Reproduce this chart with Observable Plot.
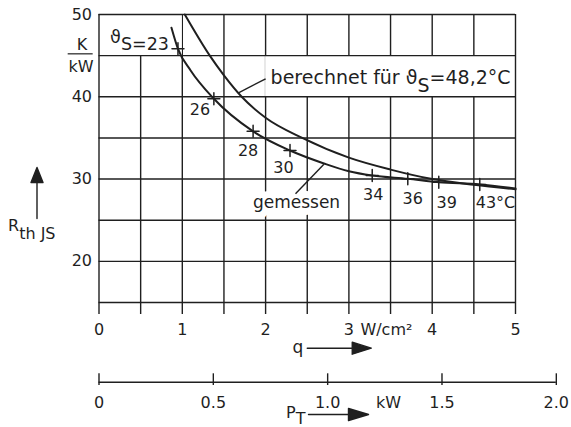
<!DOCTYPE html>
<html><head><meta charset="utf-8">
<script src="https://cdn.jsdelivr.net/npm/d3@7"></script>
<script src="https://cdn.jsdelivr.net/npm/@observablehq/plot@0.6"></script>
<style>
html,body{margin:0;padding:0;background:#fff;}
svg{display:block;}
</style></head><body><div id="chart"></div>
<script>
// ---- data ----
// measured points (q in W/cm², R_th JS in K/kW, junction temperature ϑS in °C)
const measuredQ    = [0.948, 1.379, 1.850, 2.293, 3.280, 3.707, 4.079, 4.571];
const measuredR    = [45.83, 39.76, 35.80, 33.47, 30.43, 30.03, 29.62, 29.34];
const measuredTemp = [23, 26, 28, 30, 34, 36, 39, 43];
// curve drawn through the measurements ("gemessen")
const gemessenQ = [0.87, 0.948, 1.1, 1.379, 1.850, 2.293, 2.70, 3.00, 3.280, 3.707, 4.079, 4.571, 5.00];
const gemessenR = [48.4, 45.83, 43.2, 39.76, 35.80, 33.47, 31.9, 30.95, 30.43, 30.03, 29.62, 29.34, 28.85];
// computed curve ("berechnet für ϑS = 48,2 °C")
const berechnetQ = [1.03, 1.33, 1.5, 1.713, 2.0, 2.44, 3.0, 3.5, 4.0, 4.5, 5.0];
const berechnetR = [50.0, 45.0, 42.6, 40.0, 37.45, 35.0, 32.6, 31.15, 30.0, 29.3, 28.75];
// axes
const qTicks = [0, 0.5, 1, 1.5, 2, 2.5, 3, 3.5, 4, 4.5, 5];
const rGrid = [15, 20, 25, 30, 35, 40, 45, 50];
const rTickLabels = [20, 30, 40, 50];
const pTicks = [0, 0.5, 1.0, 1.5, 2.0];   // P_T in kW
const qPerKW = 2.745;                      // W/cm² per kW of total power

// ---- build ----
const ink = "#1f1f1f";
const measured = measuredQ.map((q, i) => ({q, R: measuredR[i], t: measuredTemp[i]}));
const gemessen = gemessenQ.map((q, i) => ({q, R: gemessenR[i]}));
const berechnet = berechnetQ.map((q, i) => ({q, R: berechnetR[i]}));

const labelStyle = {
  23: {textAnchor: "end", dx: -9, dy: -11.5, fontSize: 17.5},
  26: {textAnchor: "middle", dx: -14, dy: 11},
  28: {textAnchor: "middle", dx: -5, dy: 20},
  30: {textAnchor: "middle", dx: -6.5, dy: 17.5},
  34: {textAnchor: "middle", dx: 1, dy: 19.5},
  36: {textAnchor: "middle", dx: 5, dy: 20},
  39: {textAnchor: "middle", dx: 8, dy: 21},
  43: {textAnchor: "start", dx: -4, dy: 18.5}
};
const labelText = t => t === 23 ? "ϑ_{S=23}" : t === 43 ? "43°C" : String(t);

function filledArrow(head, half) {
  return {draw(ctx, l) {
    ctx.moveTo(0, 0); ctx.lineTo(0, -l + head);
    ctx.moveTo(-half, -l + head); ctx.lineTo(0, -l); ctx.lineTo(half, -l + head); ctx.closePath();
  }};
}
const crossShape = {draw(ctx, l) { ctx.moveTo(-l, 0); ctx.lineTo(l, 0); ctx.moveTo(0, -l); ctx.lineTo(0, l); }};

const gw = 1.4;
const marks = [
  // interior vertical grid
  Plot.ruleX(qTicks.filter(q => q > 0 && q < 5), {y1: 15, y2: 50, stroke: ink, strokeWidth: gw}),
  // blank label cells
  Plot.rect([0], {x1: 0, x2: 1, y1: 45, y2: 50, fill: "white"}),
  Plot.rect([0], {x1: 2, x2: 5, y1: 40, y2: 45, fill: "white"}),
  // "gemessen" label with white halo
  Plot.text(["gemessen"], {x: 2.371, y: 27.19, fontSize: 17, fill: ink, stroke: "white", strokeWidth: 14, paintOrder: "stroke"}),
  // horizontal grid and frame sides
  Plot.ruleY(rGrid, {x1: 0, x2: 5, stroke: ink, strokeWidth: gw}),
  Plot.ruleX([0, 5], {y1: 15, y2: 50, stroke: ink, strokeWidth: gw}),
  // q axis
  Plot.axisX(qTicks, {tickSize: 12, tickPadding: 9, strokeWidth: gw, color: ink, fontSize: 16, label: null,
    tickFormat: q => Number.isInteger(q) ? String(q) : ""}),
  Plot.text(["W/cm²"], {x: 3.45, frameAnchor: "bottom", lineAnchor: "middle", dy: 27, fontSize: 16, fill: ink}),
  Plot.axisY(rTickLabels, {tickSize: 0, tickPadding: 7, color: ink, fontSize: 16, label: null}),
  // P_T axis
  Plot.ruleY([15], {x1: 0, x2: pTicks[pTicks.length - 1] * qPerKW, dy: 79.7, stroke: ink, strokeWidth: gw}),
  Plot.axisX(pTicks.map(p => p * qPerKW), {tickSize: 11.7, dy: 71.3, tickPadding: 11, strokeWidth: gw, color: ink, fontSize: 16, label: null,
    tickFormat: q => { const p = q / qPerKW; return Math.abs(p) < 1e-9 ? "0" : p.toFixed(1); }}),
  Plot.text(["kW"], {x: 3.475, frameAnchor: "bottom", lineAnchor: "middle", dy: 100, fontSize: 16, fill: ink}),
  // curves
  Plot.line(berechnet, {x: "q", y: "R", curve: "monotone-x", stroke: ink, strokeWidth: 2}),
  Plot.line(gemessen, {x: "q", y: "R", curve: "monotone-x", stroke: ink, strokeWidth: 2}),
  Plot.vector(measured, {x: "q", y: "R", length: 6, anchor: "start", shape: crossShape, stroke: ink, strokeWidth: 1.5}),
  // leaders
  Plot.link([0], {x1: 1.68, y1: 40.5, x2: 2.0, y2: 42.19, stroke: ink, strokeWidth: 1.4}),
  Plot.link([0], {x1: 2.70, y1: 31.8, x2: 2.359, y2: 28.21, stroke: ink, strokeWidth: 1.4}),
  // point labels
  ...measured.map(d => Plot.text([d], {x: "q", y: "R", text: d => labelText(d.t), fontSize: 16, fill: ink, ...labelStyle[d.t]})),
  Plot.text(["berechnet für ϑ_{S}=48,2°C"], {x: 2.0, y: 42.32, dx: 5, textAnchor: "start", fontSize: 19, fill: ink}),
  // y unit and label
  Plot.text(["K"], {x: 0, y: 46.33, dx: -17, fontSize: 16, fill: ink}),
  Plot.ruleY([45.22], {x1: -0.37, x2: -0.07, stroke: ink, strokeWidth: 1.2}),
  Plot.text(["kW"], {x: 0, y: 43.66, dx: -18, fontSize: 16, fill: ink}),
  Plot.text(["R_{th JS}"], {x: 0, y: 24.27, dx: -91, textAnchor: "start", fontSize: 16, fill: ink}),
  Plot.vector([0], {x: 0, y: 25.21, dx: -62, length: 51, rotate: 0, anchor: "start", shape: filledArrow(15, 6), stroke: ink, fill: ink, strokeWidth: 1.4}),
  // q and P_T arrows
  Plot.text(["q"], {x: 2.5, frameAnchor: "bottom", lineAnchor: "middle", dy: 45.5, dx: -4, textAnchor: "end", fontSize: 17, fill: ink}),
  Plot.vector([0], {x: 2.5, frameAnchor: "bottom", dy: 45.7, length: 64, rotate: 90, anchor: "start", shape: filledArrow(19, 6), stroke: ink, fill: ink, strokeWidth: 1.4}),
  Plot.text(["P_{T}"], {x: 2.515, frameAnchor: "bottom", lineAnchor: "middle", dy: 110.5, dx: -3, textAnchor: "end", fontSize: 16, fill: ink}),
  Plot.vector([0], {x: 2.515, frameAnchor: "bottom", dy: 112, length: 60, rotate: 90, anchor: "start", shape: filledArrow(20, 6), stroke: ink, fill: ink, strokeWidth: 1.4})
];

const svg = Plot.plot({
  width: 571, height: 427,
  marginLeft: 98.5, marginRight: 56, marginTop: 14, marginBottom: 125,
  x: {domain: [0, 5]},
  y: {domain: [15, 50]},
  style: {fontFamily: "'DejaVu Sans', sans-serif", fontSize: "16px", color: ink, background: "white"},
  marks
});

// subscripts written as X_{sub}
const shiftFor = {"S=23": 7.5, "S": 8, "th JS": 8, "T": 5.5};
d3.select(svg).selectAll("text").each(function() {
  const t = this.textContent;
  if (!t.includes("_{")) return;
  const parts = t.split(/(_\{[^}]*\})/).filter(s => s.length);
  this.textContent = "";
  let shifted = 0;
  for (const p of parts) {
    const ts = document.createElementNS("http://www.w3.org/2000/svg", "tspan");
    if (p.startsWith("_{")) {
      const s = p.slice(2, -1);
      const sh = shiftFor[s] ?? 7;
      ts.setAttribute("dy", sh);
      shifted += sh;
      ts.textContent = s;
    } else {
      if (shifted) { ts.setAttribute("dy", -shifted); shifted = 0; }
      ts.textContent = p;
    }
    this.appendChild(ts);
  }
});

document.getElementById("chart").appendChild(svg);
</script>
</body></html>
